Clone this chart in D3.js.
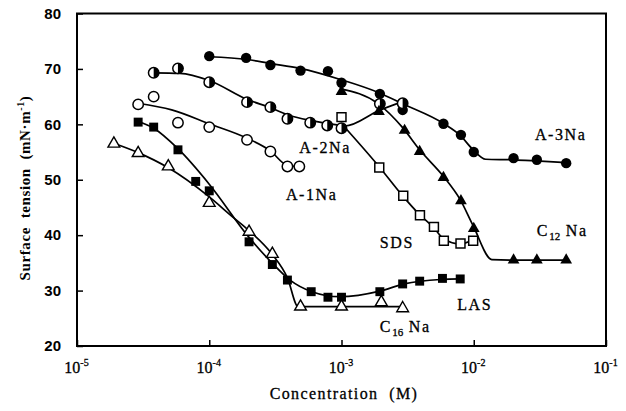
<!DOCTYPE html>
<html>
<head>
<meta charset="utf-8">
<script src="https://cdn.jsdelivr.net/npm/d3@7"></script>
<style>
  html, body { margin: 0; padding: 0; background: #fff; }
  svg { display: block; }
  .serif { font-family: "Liberation Serif", "DejaVu Serif", serif; }
</style>
</head>
<body>
<svg id="chart" width="626" height="411"></svg>
<script>
// Surface tension vs concentration.
// Each series: measured points + the hand-drawn fit curve nodes.

const X_TICKS = [1e-5, 1e-4, 1e-3, 1e-2, 1e-1];
const X_TICK_EXP = ['-5', '-4', '-3', '-2', '-1'];
const Y_TICKS = [20, 30, 40, 50, 60, 70, 80];

const A3NA_POINTS = [[1e-4, 72.3], [1.9e-4, 72.0], [2.9e-4, 70.7], [4.9e-4, 69.7], [7.9e-4, 69.6],
    [1e-3, 67.5], [1.95e-3, 65.5], [2.9e-3, 62.6], [5.9e-3, 60.1], [8e-3, 58.1], [1e-2, 55.0],
    [2e-2, 53.9], [3e-2, 53.6], [5e-2, 53.0]];
const A3NA_FIT = [[1e-4, 72.2], [1.93e-4, 71.7], [2.86e-4, 71.0], [4.86e-4, 70.1], [9.8e-4, 68.1],
    [1.92e-3, 65.7], [2.9e-3, 63.7], [5.95e-3, 60.1], [7.9e-3, 58.0], [9.9e-3, 55.4], [1.23e-2, 53.7],
    [1.97e-2, 53.6], [2.96e-2, 53.4], [5e-2, 53.1]];

const A2NA_POINTS = [[3.8e-5, 69.3], [5.8e-5, 70.1], [1e-4, 67.6], [1.93e-4, 64.0], [2.9e-4, 63.1],
    [3.9e-4, 61.0], [5.8e-4, 60.3], [7.8e-4, 59.8], [1e-3, 59.3], [1.95e-3, 63.7], [2.9e-3, 63.8]];
const A2NA_FIT = [[3.8e-5, 69.3], [6e-5, 69.2], [1e-4, 67.9], [1.93e-4, 64.5], [2.9e-4, 63.0],
    [4.06e-4, 61.6], [5.8e-4, 60.7], [9.8e-4, 59.8], [1.06e-3, 59.7], [1.92e-3, 62.5], [2.9e-3, 64.1]];

const A1NA_POINTS = [[2.9e-5, 63.6], [3.8e-5, 65.0], [5.8e-5, 60.3], [1e-4, 59.5], [1.93e-4, 57.2],
    [2.9e-4, 55.1], [3.9e-4, 52.4], [4.8e-4, 52.4]];
const A1NA_FIT = [[2.9e-5, 63.8], [5.2e-5, 62.6], [1e-4, 60.1], [1.93e-4, 57.5], [2.9e-4, 55.2],
    [3.87e-4, 52.6], [4.4e-4, 52.4]];

const LAS_POINTS = [[2.9e-5, 60.4], [3.8e-5, 59.5], [5.8e-5, 55.4], [7.9e-5, 49.7], [1e-4, 48.0],
    [2e-4, 38.8], [3e-4, 34.7], [3.9e-4, 31.9], [5.9e-4, 29.8], [7.9e-4, 28.8], [1e-3, 28.8],
    [1.95e-3, 29.8], [2.9e-3, 31.2], [3.9e-3, 31.7], [5.8e-3, 32.2], [7.9e-3, 32.1]];
const LAS_FIT = [[2.9e-5, 60.5], [3.8e-5, 59.3], [5.8e-5, 55.6], [1e-4, 49.2], [2e-4, 39.6],
    [2.98e-4, 35.0], [4.08e-4, 31.9], [5.98e-4, 29.8], [9.7e-4, 28.9], [1.95e-3, 29.9],
    [2.97e-3, 31.2], [5.6e-3, 32.0], [8e-3, 32.1]];

const C16NA_POINTS = [[1.9e-5, 56.5], [2.9e-5, 54.8], [4.9e-5, 52.4], [1e-4, 45.8], [2e-4, 40.6],
    [3e-4, 36.6], [4.9e-4, 27.1], [1e-3, 27.1], [2e-3, 27.9], [2.9e-3, 26.8]];
const C16NA_FIT = [[1.94e-5, 56.5], [2.9e-5, 54.9], [4.87e-5, 52.2], [1e-4, 46.9], [1.5e-4, 43.3],
    [1.96e-4, 41.0], [2.98e-4, 36.6], [3.9e-4, 32.3], [4.7e-4, 27.1], [9.7e-4, 27.1], [2.9e-3, 27.1]];

const SDS_POINTS = [[1e-3, 61.3], [1.93e-3, 52.2], [2.93e-3, 47.1], [3.92e-3, 43.6], [5e-3, 41.5],
    [5.94e-3, 39.0], [7.94e-3, 38.5], [9.9e-3, 39.0]];
const SDS_FIT = [[1.03e-3, 59.8], [1.92e-3, 52.4], [2.9e-3, 47.1], [3.9e-3, 43.7], [5e-3, 41.3],
    [5.95e-3, 39.3], [7.9e-3, 38.4], [9.9e-3, 39.2]];

const C12NA_POINTS = [[1e-3, 65.9], [1.92e-3, 62.3], [3e-3, 58.9], [3.9e-3, 55.1], [5.9e-3, 50.4],
    [8e-3, 46.2], [1e-2, 41.2], [2e-2, 35.5], [3e-2, 35.5], [5e-2, 35.5]];
const C12NA_FIT = [[9.8e-4, 66.4], [1.9e-3, 63.7], [2.9e-3, 59.4], [3.9e-3, 55.4], [5.95e-3, 50.5],
    [7.9e-3, 46.4], [9.9e-3, 41.7], [1.37e-2, 35.6], [2e-2, 35.5], [5e-2, 35.5]];

// label anchor (left/baseline) in data coordinates
const LABELS = [
    { name: 'A-3Na', sub: null, c: 2.9e-2, v: 57.2 },
    { name: 'A-2Na', sub: null, c: 4.8e-4, v: 54.9 },
    { name: 'A-1Na', sub: null, c: 3.8e-4, v: 46.4 },
    { name: 'SDS', sub: null, c: 1.95e-3, v: 37.7 },
    { name: 'C', sub: '12', rest: ' Na', c: 3e-2, v: 39.9 },
    { name: 'LAS', sub: null, c: 7.5e-3, v: 26.5 },
    { name: 'C', sub: '16', rest: ' Na', c: 1.95e-3, v: 22.5 },
];

const SERIES = [
    { key: 'A-3Na', points: A3NA_POINTS, fit: A3NA_FIT, marker: 'circle-filled' },
    { key: 'A-2Na', points: A2NA_POINTS, fit: A2NA_FIT, marker: 'circle-half' },
    { key: 'A-1Na', points: A1NA_POINTS, fit: A1NA_FIT, marker: 'circle-open' },
    { key: 'LAS', points: LAS_POINTS, fit: LAS_FIT, marker: 'square-filled' },
    { key: 'C16Na', points: C16NA_POINTS, fit: C16NA_FIT, marker: 'triangle-open' },
    { key: 'SDS', points: SDS_POINTS, fit: SDS_FIT, marker: 'square-open' },
    { key: 'C12Na', points: C12NA_POINTS, fit: C12NA_FIT, marker: 'triangle-filled' },
];

const svg = d3.select('#chart');
const x = d3.scaleLog().domain([1e-5, 1e-1]).range([77, 606]);
const y = d3.scaleLinear().domain([20, 80]).range([346, 13.5]);

svg.append('rect').attr('width', 626).attr('height', 411).attr('fill', '#fff');

// frame
svg.append('rect')
    .attr('x', x.range()[0]).attr('y', y.range()[1])
    .attr('width', x.range()[1] - x.range()[0]).attr('height', y.range()[0] - y.range()[1])
    .attr('fill', 'none').attr('stroke', '#000').attr('stroke-width', 2);

// x axis: inward ticks, labels as 10 with superscript exponent
const gx = svg.append('g').attr('transform', `translate(0,${y.range()[0]})`)
    .call(d3.axisBottom(x).tickValues(X_TICKS).tickSizeInner(-6).tickSizeOuter(0).tickFormat(''));
gx.select('.domain').remove();
gx.selectAll('.tick line').attr('stroke', '#000').attr('stroke-width', 1.5);
gx.selectAll('.tick').each(function (d, i) {
    const t = d3.select(this).append('text')
        .attr('class', 'serif').attr('y', 27).attr('x', -1)
        .attr('text-anchor', 'middle').attr('fill', '#000').attr('font-size', 16)
        .attr('stroke', '#000').attr('stroke-width', 0.3);
    t.append('tspan').text('10');
    t.append('tspan').attr('dy', -7).attr('font-size', 10).text(X_TICK_EXP[i]);
});

// y axis
const gy = svg.append('g').attr('transform', `translate(${x.range()[0]},0)`)
    .call(d3.axisLeft(y).tickValues(Y_TICKS).tickSizeInner(-6).tickSizeOuter(0).tickPadding(16));
gy.select('.domain').remove();
gy.selectAll('.tick line').attr('stroke', '#000').attr('stroke-width', 1.5);
gy.selectAll('.tick text')
    .attr('font-family', '"Liberation Sans", Arial, sans-serif')
    .attr('font-weight', 'bold').attr('font-size', 15).attr('fill', '#000');

// axis titles
svg.append('text').attr('class', 'serif')
    .attr('x', 344).attr('y', 399).attr('text-anchor', 'middle')
    .attr('font-size', 16).attr('letter-spacing', 1.4).style('white-space', 'pre')
    .attr('stroke', '#000').attr('stroke-width', 0.3)
    .text('Concentration  (M)');

const yt = svg.append('text').attr('class', 'serif')
    .attr('transform', 'translate(30,188) rotate(-90)')
    .attr('text-anchor', 'middle').attr('font-size', 15).attr('font-weight', 'bold')
    .attr('letter-spacing', 0.6).style('white-space', 'pre');
yt.append('tspan').text('Surface  tension  (mN·m');
yt.append('tspan').attr('dy', -6).attr('font-size', 10).text('-1');
yt.append('tspan').attr('dy', 6).text(')');

// fit curves
const line = d3.line()
    .x((d) => x(d[0]))
    .y((d) => y(d[1]))
    .curve(d3.curveMonotoneX);

svg.append('g').selectAll('path')
    .data(SERIES)
    .join('path')
    .attr('d', (s) => line(s.fit))
    .attr('fill', 'none').attr('stroke', '#000').attr('stroke-width', 1.7);

// markers
const R = 5.2;
const sq = d3.symbol().type(d3.symbolSquare).size(80);
const tri = d3.symbol().type(d3.symbolTriangle).size(60);

function drawMarker(g, kind) {
    if (kind === 'circle-filled') {
        g.append('circle').attr('r', R).attr('fill', '#000');
    } else if (kind === 'circle-open') {
        g.append('circle').attr('r', R).attr('fill', '#fff').attr('stroke', '#000').attr('stroke-width', 1.5);
    } else if (kind === 'circle-half') {
        g.append('circle').attr('r', R).attr('fill', '#fff').attr('stroke', '#000').attr('stroke-width', 1.5);
        g.append('path').attr('d', d3.arc()({ innerRadius: 0, outerRadius: R, startAngle: 0, endAngle: Math.PI }))
            .attr('fill', '#000');
    } else if (kind === 'square-filled') {
        g.append('path').attr('d', sq()).attr('fill', '#000');
    } else if (kind === 'square-open') {
        g.append('path').attr('d', sq()).attr('fill', '#fff').attr('stroke', '#000').attr('stroke-width', 1.5);
    } else if (kind === 'triangle-filled') {
        g.append('path').attr('d', tri()).attr('fill', '#000');
    } else if (kind === 'triangle-open') {
        g.append('path').attr('d', tri()).attr('fill', '#fff').attr('stroke', '#000').attr('stroke-width', 1.4);
    }
}

for (const s of SERIES) {
    svg.append('g').attr('class', 'series')
        .selectAll('g')
        .data(s.points)
        .join('g')
        .attr('transform', (d) => `translate(${x(d[0])},${y(d[1])})`)
        .each(function () { drawMarker(d3.select(this), s.marker); });
}

// series labels
const gl = svg.append('g');
for (const l of LABELS) {
    const t = gl.append('text').attr('class', 'serif')
        .attr('x', x(l.c)).attr('y', y(l.v))
        .attr('font-size', 16).attr('letter-spacing', 1.6).attr('fill', '#000')
        .attr('stroke', '#000').attr('stroke-width', 0.3)
        .style('white-space', 'pre');
    t.append('tspan').text(l.name);
    if (l.sub) {
        t.append('tspan').attr('dy', 4).attr('font-size', 11).attr('letter-spacing', 0).text(l.sub);
        t.append('tspan').attr('dy', -4).text(l.rest);
    }
}
</script>
</body>
</html>
